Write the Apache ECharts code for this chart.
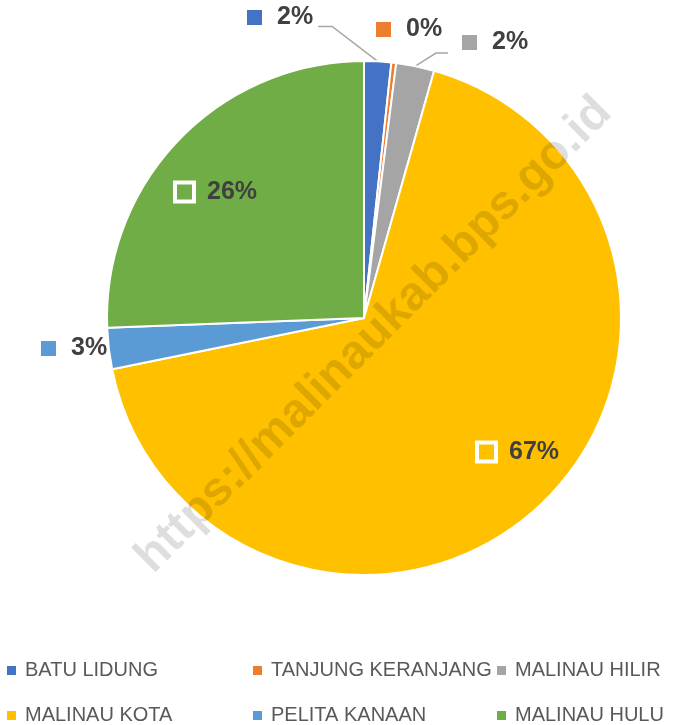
<!DOCTYPE html>
<html>
<head>
<meta charset="utf-8">
<script src="https://cdn.jsdelivr.net/npm/echarts@6/dist/echarts.min.js"></script>
<style>
  html, body { margin: 0; padding: 0; background: #fff; }
  #pie_chart { width: 674px; height: 725px; }
</style>
</head>
<body>
<div id="pie_chart"></div>
<script>
    // kecamatan (clockwise from 12 o'clock) and their share
    var district_list = ['BATU LIDUNG', 'TANJUNG KERANJANG', 'MALINAU HILIR', 'MALINAU KOTA', 'PELITA KANAAN', 'MALINAU HULU'];
    var share_list = [1.7, 0.3, 2.4, 67.4, 2.6, 25.6];
    var color_list = ['#4472C4', '#ED7D31', '#A5A5A5', '#FFC000', '#5B9BD5', '#70AD47'];

    // where each data label sits (left edge, vertical middle)
    var label_pos = [[247, 17.5], [376, 29.5], [462, 42.5], [479, 452], [41, 348.5], [177, 192]];
    var has_leader = [true, false, true, false, false, false];

    var myChart = echarts.init(document.getElementById('pie_chart'));

    var rich_label = {
        sp: { width: 15, height: 15, verticalAlign: 'middle' },
        v: { fontFamily: 'Liberation Sans', fontWeight: 'bold', fontSize: 25, color: '#404040',
             verticalAlign: 'middle', lineHeight: 28 }
    };
    for (var i = 0; i < color_list.length; i++) {
        rich_label['sq' + i] = { width: 15, height: 15, backgroundColor: color_list[i],
                                 borderColor: '#ffffff', borderWidth: 4, verticalAlign: 'middle' };
    }

    var pie_data = [];
    for (var i = 0; i < district_list.length; i++) {
        pie_data.push({
            name: district_list[i],
            value: share_list[i],
            labelLine: { show: has_leader[i] }
        });
    }

    var legend_rich = {
        g: { width: 4, lineHeight: 45 },
        c0: { width: 228, lineHeight: 45 },
        c1: { width: 226, lineHeight: 45 },
        c2: { lineHeight: 45 }
    };

    option = {
        animation: false,
        color: color_list,
        legend: {
            data: district_list,
            orient: 'horizontal',
            left: 7,
            top: 648,
            width: 667,
            padding: 0,
            itemGap: 0,
            itemWidth: 9,
            itemHeight: 9,
            icon: 'rect',
            itemStyle: { borderWidth: 0 },
            textStyle: {
                fontFamily: 'Liberation Sans',
                fontSize: 20,
                color: '#595959',
                lineHeight: 45,
                rich: legend_rich
            },
            formatter: function (name) {
                var c = district_list.indexOf(name) % 3;
                return '{g|}{c' + c + '|' + name + '}';
            }
        },
        graphic: [
            {
                type: 'text',
                x: 374,
                y: 335,
                rotation: Math.PI / 4,
                z: 100,
                silent: true,
                style: {
                    text: 'https://malinaukab.bps.go.id',
                    font: 'bold 48px "Liberation Sans"',
                    fill: 'rgba(0,0,0,0.13)',
                    textAlign: 'center',
                    textVerticalAlign: 'middle'
                }
            }
        ],
        series: [
            {
                name: '',
                type: 'pie',
                center: [364, 318],
                radius: 257,
                startAngle: 90,
                clockwise: true,
                avoidLabelOverlap: false,
                itemStyle: { borderColor: '#ffffff', borderWidth: 2 },
                label: {
                    show: true,
                    position: 'outside',
                    formatter: function (p) {
                        return '{sq' + p.dataIndex + '|}{sp|}{v|' + Math.round(p.percent) + '%}';
                    },
                    rich: rich_label
                },
                labelLine: {
                    show: true,
                    lineStyle: { color: '#A6A6A6', width: 1.5 }
                },
                labelLayout: function (params) {
                    var i = params.dataIndex;
                    var p = label_pos[i];
                    var res = { x: p[0], y: p[1], align: 'left', verticalAlign: 'middle' };
                    if (has_leader[i] && params.labelLinePoints) {
                        var start = params.labelLinePoints[0];
                        if (i == 0) {
                            var right = p[0] + params.labelRect.width;
                            res.labelLinePoints = [start, [right + 15, p[1] + 9], [right + 1, p[1] + 9]];
                        } else {
                            res.labelLinePoints = [start, [p[0] - 26, p[1] + 10.5], [p[0] - 14, p[1] + 10.5]];
                        }
                    }
                    return res;
                },
                emphasis: { disabled: true },
                data: pie_data
            }
        ]
    };
    myChart.setOption(option);
</script>
</body>
</html>
